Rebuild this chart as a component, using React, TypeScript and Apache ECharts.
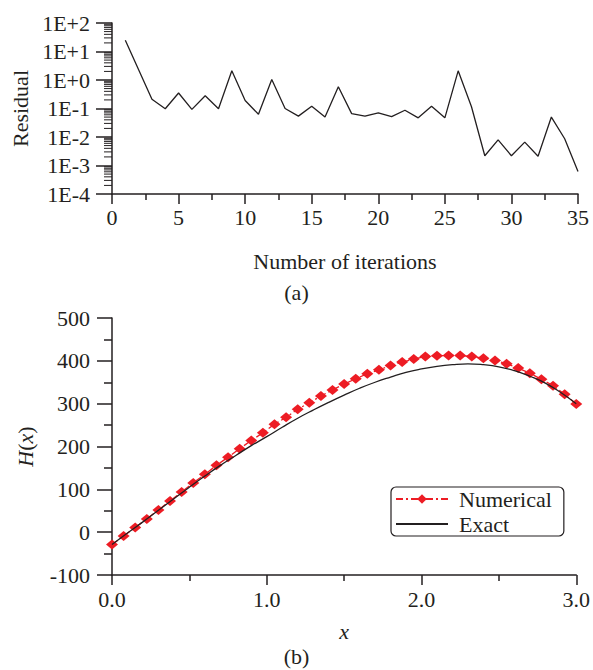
import React, { useEffect, useRef } from "react";
import * as echarts from "echarts";

// ---- Panel (a): residual vs iterations ----
const ITERATIONS = [1, 2, 3, 4, 5, 6, 7, 8, 9, 10, 11, 12, 13, 14, 15, 16, 17, 18, 19, 20, 21, 22, 23, 24, 25, 26, 27, 28, 29, 30, 31, 32, 33, 34, 35];
const RESIDUALS = [25, 2.3, 0.21, 0.098, 0.35, 0.093, 0.28, 0.098, 2.1, 0.19, 0.063, 1.05, 0.1, 0.054, 0.12, 0.05, 0.58, 0.066, 0.054, 0.07, 0.052, 0.087, 0.047, 0.12, 0.047, 2.1, 0.115, 0.0022, 0.0079, 0.0022, 0.0066, 0.0021, 0.05, 0.0087, 0.00062];
const LOG_DECADES = [-4, -3, -2, -1, 0, 1];
const LOG_MINOR_MULTIPLIERS = [2, 3, 4, 5, 6, 7, 8, 9];

// ---- Panel (b): H(x) ----
const NUM_X = [0, 0.075, 0.15, 0.225, 0.3, 0.375, 0.45, 0.525, 0.6, 0.675, 0.75, 0.825, 0.9, 0.975, 1.05, 1.125, 1.2, 1.275, 1.35, 1.425, 1.5, 1.575, 1.65, 1.725, 1.8, 1.875, 1.95, 2.025, 2.1, 2.175, 2.25, 2.325, 2.4, 2.475, 2.55, 2.625, 2.7, 2.775, 2.85, 2.925, 3.0];
const NUM_H = [-29, -9, 11, 31, 52, 73, 94, 115, 135, 156, 175, 195, 214, 232, 252, 268, 287, 302, 318, 332, 346, 358, 370, 379, 389, 397, 404, 410, 412, 412.5, 412.5, 410, 406, 401, 393, 383, 371, 357, 342, 322, 299];
const EXACT_X = [0, 0.1, 0.2, 0.3, 0.4, 0.5, 0.6, 0.7, 0.8, 0.9, 1.0, 1.1, 1.2, 1.3, 1.4, 1.5, 1.6, 1.7, 1.8, 1.9, 2.0, 2.1, 2.2, 2.3, 2.4, 2.5, 2.6, 2.7, 2.8, 2.9, 3.0];
const EXACT_H = [-29, -2, 24, 51, 78, 105, 131, 156, 179, 202, 223, 245, 266, 285, 303, 320, 336, 350, 362, 373, 381, 387, 391, 393, 391, 386, 377, 364, 348, 326, 300];

const SERIES_NAMES = ["Numerical", "Exact"];

const FONT = '"Liberation Serif", "Times New Roman", serif';
const INK = "#231f20";
const RED = "#ed1c24";
const FS = 22;

export default function App() {
  const ref = useRef<HTMLDivElement>(null);

  useEffect(() => {
    if (!ref.current) return;
    const chart = echarts.init(ref.current, undefined, { renderer: "svg" });

    const axisLine = { show: true, lineStyle: { color: INK, width: 1.5 } };
    const label = { color: INK, fontFamily: FONT, fontSize: FS };
    const italicRich = { i: { fontStyle: "italic", fontFamily: FONT, fontSize: FS, color: INK } };

    const minorTickValues: number[][] = [];
    LOG_DECADES.forEach((e) => {
      LOG_MINOR_MULTIPLIERS.forEach((k) => minorTickValues.push([0, k * Math.pow(10, e)]));
    });

    chart.setOption({
      animation: false,
      backgroundColor: "#ffffff",
      textStyle: { fontFamily: FONT, color: INK },
      grid: [
        { left: 112, top: 23, width: 466, height: 171 },
        { left: 112, top: 318, width: 467, height: 257 },
      ],
      xAxis: [
        {
          gridIndex: 0,
          type: "value",
          min: 0,
          max: 35,
          interval: 5,
          axisLine: { ...axisLine, onZero: false },
          axisTick: { show: true, length: 10, lineStyle: { color: INK, width: 1.5 } },
          minorTick: { show: true, splitNumber: 2, length: 6, lineStyle: { color: INK, width: 1.5 } },
          splitLine: { show: false },
          minorSplitLine: { show: false },
          axisLabel: { ...label, margin: 12 },
          name: "Number of iterations",
          nameLocation: "middle",
          nameGap: 56,
          nameTextStyle: { ...label },
        },
        {
          gridIndex: 1,
          type: "value",
          min: 0,
          max: 3,
          interval: 1,
          axisLine: { ...axisLine, onZero: false },
          axisTick: { show: true, length: 10, lineStyle: { color: INK, width: 1.5 } },
          minorTick: { show: true, splitNumber: 2, length: 6, lineStyle: { color: INK, width: 1.5 } },
          splitLine: { show: false },
          minorSplitLine: { show: false },
          axisLabel: { ...label, margin: 13, formatter: (v: number) => v.toFixed(1) },
          name: "{i|x}",
          nameLocation: "middle",
          nameGap: 45,
          nameTextStyle: { ...label, rich: italicRich },
        },
      ],
      yAxis: [
        {
          gridIndex: 0,
          type: "log",
          logBase: 10,
          min: 1e-4,
          max: 100,
          splitNumber: 6,
          axisLine,
          axisTick: { show: true, length: 16, lineStyle: { color: INK, width: 1.5 } },
          minorTick: { show: false },
          splitLine: { show: false },
          minorSplitLine: { show: false },
          axisLabel: {
            ...label,
            margin: 22,
            formatter: (v: number) => {
              const e = Math.round(Math.log10(v));
              return "1E" + (e >= 0 ? "+" : "") + e;
            },
          },
          name: "Residual",
          nameLocation: "middle",
          nameGap: 80,
          nameRotate: 90,
          nameTextStyle: { ...label },
        },
        {
          gridIndex: 1,
          type: "value",
          min: -100,
          max: 500,
          interval: 100,
          axisLine: { ...axisLine, onZero: false },
          axisTick: { show: true, length: 15, lineStyle: { color: INK, width: 1.5 } },
          minorTick: { show: true, splitNumber: 2, length: 8, lineStyle: { color: INK, width: 1.5 } },
          splitLine: { show: false },
          minorSplitLine: { show: false },
          axisLabel: { ...label, margin: 22 },
          name: "{i|H}({i|x})",
          nameLocation: "middle",
          nameGap: 76,
          nameRotate: 90,
          nameTextStyle: { ...label, rich: italicRich },
        },
      ],
      legend: {
        data: [{ name: SERIES_NAMES[0] }, { name: SERIES_NAMES[1], itemStyle: { opacity: 0 } }],
        orient: "vertical",
        left: 391,
        top: 487,
        itemWidth: 52,
        itemHeight: 12,
        itemGap: 3,
        padding: [1, 12, 1, 4],
        borderColor: INK,
        borderWidth: 1.2,
        borderRadius: 5,
        textStyle: { color: INK, fontFamily: FONT, fontSize: FS, lineHeight: 21, padding: [0, 0, 0, 6] },
      },
      graphic: [
        { type: "text", left: "center", top: 281, style: { text: "(a)", fontFamily: FONT, fontSize: FS, fill: INK } },
        { type: "text", left: "center", top: 645, style: { text: "(b)", fontFamily: FONT, fontSize: FS, fill: INK } },
      ],
      series: [
        {
          type: "line",
          xAxisIndex: 0,
          yAxisIndex: 0,
          data: ITERATIONS.map((it, i) => [it, RESIDUALS[i]]),
          showSymbol: false,
          symbol: "none",
          lineStyle: { color: INK, width: 1.3 },
          itemStyle: { color: INK },
        },
        {
          type: "custom",
          xAxisIndex: 0,
          yAxisIndex: 0,
          silent: true,
          clip: false,
          data: minorTickValues,
          encode: { x: 0, y: 1 },
          renderItem: (_params: any, api: any) => {
            const p = api.coord([api.value(0), api.value(1)]);
            return {
              type: "line",
              shape: { x1: p[0] - 8, y1: p[1], x2: p[0], y2: p[1] },
              style: { stroke: INK, lineWidth: 1 },
            };
          },
        },
        {
          name: SERIES_NAMES[0],
          type: "line",
          xAxisIndex: 1,
          yAxisIndex: 1,
          data: NUM_X.map((x, i) => [x, NUM_H[i]]),
          symbol: "diamond",
          symbolSize: [12, 10],
          lineStyle: { color: RED, width: 1.3, type: [7, 3, 2, 3] },
          itemStyle: { color: RED },
          z: 3,
        },
        {
          name: SERIES_NAMES[1],
          type: "line",
          xAxisIndex: 1,
          yAxisIndex: 1,
          data: EXACT_X.map((x, i) => [x, EXACT_H[i]]),
          smooth: true,
          symbol: "none",
          lineStyle: { color: INK, width: 1.3 },
          itemStyle: { color: INK },
          z: 4,
        },
      ],
    });

    return () => chart.dispose();
  }, []);

  return (
    <div
      ref={ref}
      style={{ position: "fixed", left: 0, top: 0, width: 593, height: 670, background: "#fff" }}
    />
  );
}
